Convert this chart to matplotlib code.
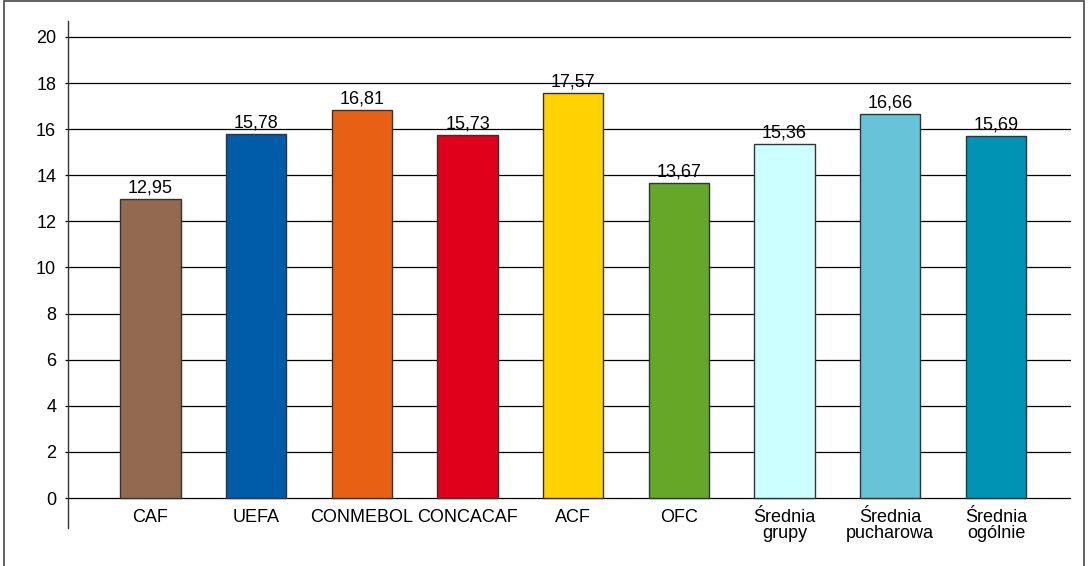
import matplotlib

matplotlib.use("Agg")
import matplotlib.pyplot as plt
from matplotlib.patches import Rectangle

plt.rcParams["font.family"] = ["Liberation Sans Narrow", "Liberation Sans", "DejaVu Sans"]

# dane z wykresu
CATEGORIES = ["CAF", "UEFA", "CONMEBOL", "CONCACAF", "ACF", "OFC",
              "Średnia\ngrupy", "Średnia\npucharowa", "Średnia\nogólnie"]
VALUES = [12.95, 15.78, 16.81, 15.73, 17.57, 13.67, 15.36, 16.66, 15.69]
COLORS = ["#936A50", "#005BA8", "#E86014", "#E0001B", "#FFD200",
          "#65A828", "#CCFFFF", "#66C3D8", "#0093B3"]
Y_TICKS = list(range(0, 21, 2))

FONT_SIZE = 13


def main() -> None:
    fig = plt.figure(figsize=(10.89, 5.66), dpi=100)
    ax = fig.add_axes([68 / 1089, 1 - 528 / 566, (1071 - 68) / 1089, (528 - 21) / 566])

    x = list(range(len(CATEGORIES)))
    ax.bar(x, VALUES, width=0.57, color=COLORS, edgecolor="#333333",
           linewidth=1.0, zorder=3)

    for xi, v, lab in zip(x, VALUES, CATEGORIES):
        ax.annotate(f"{v:.2f}".replace(".", ","), xy=(xi, v), xytext=(0, 2),
                    textcoords="offset points", ha="center", va="bottom",
                    fontsize=FONT_SIZE, zorder=4)
        ax.annotate(lab, xy=(xi, 0), xytext=(0, -8), textcoords="offset points",
                    ha="center", va="top", fontsize=FONT_SIZE, linespacing=0.9,
                    multialignment="center")

    ax.set_xlim(-0.78, 8.71)
    ax.set_ylim(-1.3, 20.69)
    ax.set_yticks(Y_TICKS)
    ax.set_xticks([])
    for t in Y_TICKS:
        ax.axhline(t, color="black", linewidth=0.9, zorder=1)

    for side in ("top", "right", "bottom"):
        ax.spines[side].set_visible(False)
    ax.spines["left"].set_color("#333333")
    ax.spines["left"].set_linewidth(1.0)
    ax.tick_params(axis="y", direction="out", length=2.5, width=0.9,
                   pad=6, labelsize=FONT_SIZE)

    # ramka wokół wykresu
    fig.patches.append(Rectangle((4 / 1089, -0.05), 1080 / 1089, 1.05 - 1.5 / 566,
                                 transform=fig.transFigure, fill=False,
                                 edgecolor="#555555", linewidth=1.3))

    fig.savefig("out.png", dpi=100)
    plt.close(fig)


if __name__ == "__main__":
    main()
